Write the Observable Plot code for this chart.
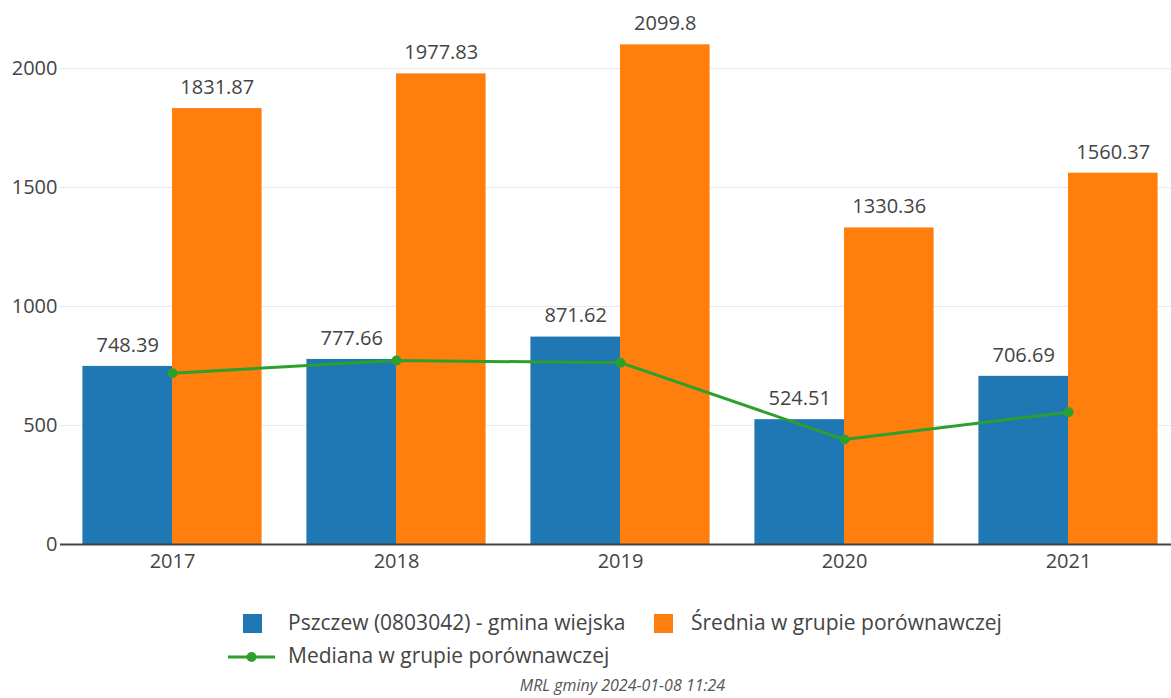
<!DOCTYPE html>
<html>
<head>
<meta charset="utf-8">
<script src="https://cdn.jsdelivr.net/npm/d3@7"></script>
<script src="https://cdn.jsdelivr.net/npm/@observablehq/plot@0.6"></script>
<style>
  html, body { margin: 0; padding: 0; background: #fff; overflow: hidden; }
  #wrap { position: relative; width: 1171px; height: 698px; overflow: hidden; font-family: "Open Sans", sans-serif; color: #444; }
  #chart { position: absolute; left: 0; top: 0; width: 1181px; }
  #chart svg { max-width: none !important; }
  .leg { position: absolute; font-size: 21px; line-height: 1; white-space: nowrap; color: #444; }
  .sw { position: absolute; width: 19px; height: 19px; }
  #caption { position: absolute; left: 0; width: 1245px; text-align: center; top: 677px; font-size: 16px; line-height: 1; font-style: italic; color: #555; }
</style>
</head>
<body>
<div id="wrap">
  <div id="chart"></div>
  <div class="sw" style="left:243px;top:614px;background:#1f77b4"></div>
  <div class="leg" style="left:288px;top:612px">Pszczew (0803042) - gmina wiejska</div>
  <div class="sw" style="left:654px;top:614px;background:#ff7f0e"></div>
  <div class="leg" style="left:691px;top:612px">Średnia w grupie porównawczej</div>
  <svg style="position:absolute;left:228px;top:647px" width="50" height="20">
    <line x1="0" y1="10" x2="47" y2="10" stroke="#2ca02c" stroke-width="3"/>
    <circle cx="23.5" cy="10" r="5" fill="#2ca02c"/>
  </svg>
  <div class="leg" style="left:288px;top:645px">Mediana w grupie porównawczej</div>
  <div id="caption">MRL gminy 2024-01-08 11:24</div>
</div>
<script>
const years = [2017, 2018, 2019, 2020, 2021];
const gmina = [748.39, 777.66, 871.62, 524.51, 706.69];
const srednia = [1831.87, 1977.83, 2099.8, 1330.36, 1560.37];
const mediana = [720, 773, 764, 441, 556];
const yTicks = [0, 500, 1000, 1500, 2000];

const rows = years.map((y, i) => ({year: y, gmina: gmina[i], srednia: srednia[i], mediana: mediana[i]}));
const half = 0.4;

const chart = Plot.plot({
  width: 1181,
  height: 590,
  marginLeft: 60,
  marginRight: 1,
  marginTop: 20,
  marginBottom: 46,
  style: {fontFamily: "Open Sans, sans-serif", fontSize: "20px", color: "#444", background: "transparent", maxWidth: "none"},
  x: {type: "linear", domain: [2016.5, 2021.5], label: null},
  y: {domain: [0, 2202], label: null},
  marks: [
    Plot.gridY(yTicks.filter(d => d > 0), {stroke: "#e8e8e8", strokeOpacity: 1, strokeWidth: 1}),
    Plot.rectY(rows, {x1: d => d.year - half, x2: d => d.year, y: "gmina", fill: "#1f77b4"}),
    Plot.rectY(rows, {x1: d => d.year, x2: d => d.year + half, y: "srednia", fill: "#ff7f0e"}),
    Plot.ruleY([0], {stroke: "#444", strokeWidth: 2}),
    Plot.axisX(years, {tickSize: 0, tickPadding: 9, tickFormat: d => String(d), fill: "#444", label: null}),
    Plot.axisY(yTicks, {tickSize: 0, tickPadding: 3, tickFormat: d => String(d), fill: "#444", label: null}),
    Plot.text(rows, {x: d => d.year - half / 2, y: "gmina", text: d => String(d.gmina), dy: -21, fill: "#444", lineAnchor: "middle"}),
    Plot.text(rows, {x: d => d.year + half / 2, y: "srednia", text: d => String(d.srednia), dy: -21, fill: "#444", lineAnchor: "middle"}),
    Plot.line(rows, {x: "year", y: "mediana", stroke: "#2ca02c", strokeWidth: 3}),
    Plot.dot(rows, {x: "year", y: "mediana", r: 5, fill: "#2ca02c", stroke: null})
  ]
});
document.getElementById("chart").appendChild(chart);
</script>
</body>
</html>
